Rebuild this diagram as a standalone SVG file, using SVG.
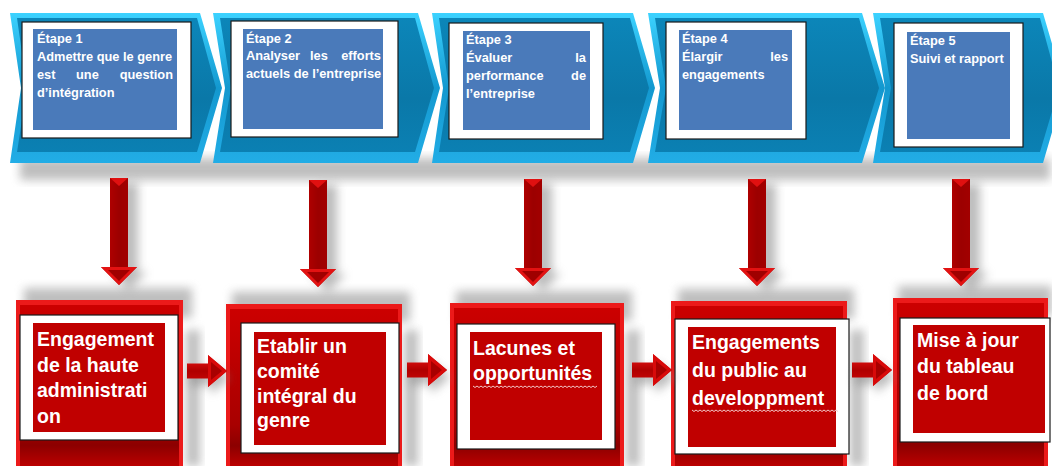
<svg xmlns="http://www.w3.org/2000/svg" width="1052" height="466" viewBox="0 0 1052 466">
  <style>
    .step { font-family: "Liberation Sans", Arial, sans-serif; font-weight: bold; font-size: 12.8px; fill: #ffffff; }
    .task { font-family: "Liberation Sans", Arial, sans-serif; font-weight: bold; font-size: 19.5px; fill: #ffffff; }
    .card { fill: #ffffff; stroke: #1a1a1a; stroke-width: 1.2; }
    .blue { fill: #4a7aba; }
    .red { fill: #c00000; }
    .chev-edge { fill: url(#chevEdge); }
    .chev-face { fill: url(#chevFace); }
    .panel-edge { fill: #ec1a1a; }
    .panel-face { fill: url(#panelFace); }
    .shadow { fill: #8a8a8a; filter: url(#soft); opacity: 0.55; }
    .squiggle { fill: none; stroke: #f2c8c8; stroke-width: 1; }
  </style>
  <defs>
    <filter id="soft" x="-30%" y="-30%" width="160%" height="160%">
      <feGaussianBlur stdDeviation="5"/>
    </filter>
    <linearGradient id="chevEdge" x1="0" y1="0" x2="0" y2="1">
      <stop offset="0" stop-color="#3cd2ff"/>
      <stop offset="0.5" stop-color="#1398cf"/>
      <stop offset="1" stop-color="#22ade6"/>
    </linearGradient>
    <linearGradient id="chevFace" x1="0" y1="0" x2="0" y2="1">
      <stop offset="0" stop-color="#0c86b9"/>
      <stop offset="0.6" stop-color="#0a78a8"/>
      <stop offset="1" stop-color="#0b80b3"/>
    </linearGradient>
    <linearGradient id="panelFace" x1="0" y1="0" x2="0" y2="1">
      <stop offset="0" stop-color="#cc0000"/>
      <stop offset="0.72" stop-color="#a80000"/>
      <stop offset="0.85" stop-color="#8c0000"/>
      <stop offset="1" stop-color="#c40000"/>
    </linearGradient>
    <linearGradient id="arrowShaft" x1="0" y1="0" x2="1" y2="0">
      <stop offset="0" stop-color="#c00000"/>
      <stop offset="0.5" stop-color="#9c0000"/>
      <stop offset="1" stop-color="#a80000"/>
    </linearGradient>
    <linearGradient id="arrowSide" x1="0" y1="0" x2="0" y2="1">
      <stop offset="0" stop-color="#f01818"/>
      <stop offset="0.5" stop-color="#b00000"/>
      <stop offset="1" stop-color="#d00a0a"/>
    </linearGradient>
    <!-- downward block arrow, tip at (0,107) -->
    <g id="down-arrow">
      <path d="M-9,0 H9 V89 H18 L0,107 L-18,89 H-9 Z" fill="url(#arrowShaft)"/>
      <path d="M-9,0 H9 L0,8 Z" fill="#e01010"/>
      <path d="M-18,89 H18 L0,107 Z" fill="#e31212"/>
      <path d="M-11,92 H11 L0,103 Z" fill="#a00000"/>
    </g>
    <path id="down-arrow-shadow" d="M-9,0 H9 V89 H18 L0,107 L-18,89 H-9 Z"/>
    <!-- rightward block arrow, tail at x=0 on the axis -->
    <g id="right-arrow">
      <path d="M0,-7.5 H21 V-16 L40,0 L21,16 V7.5 H0 Z" fill="url(#arrowSide)"/>
      <path d="M21,-16 L40,0 L21,16 Z" fill="#d80a0a"/>
      <path d="M24,-9 L35,0 L24,9 Z" fill="#a80000"/>
    </g>
    <path id="right-arrow-shadow" d="M0,-7.5 H21 V-16 L40,0 L21,16 V7.5 H0 Z"/>
  </defs>

  <rect width="1052" height="466" fill="#ffffff"/>

  <!-- soft shadows under the step banner and the task panels -->
  <g id="shadows">
    <rect class="shadow" x="20" y="158" width="1030" height="22"/>
    <rect class="shadow" x="24" y="288" width="168" height="30" opacity="0.45"/>
    <rect class="shadow" x="232" y="292" width="178" height="30" opacity="0.45"/>
    <rect class="shadow" x="456" y="291" width="176" height="30" opacity="0.45"/>
    <rect class="shadow" x="678" y="289" width="176" height="30" opacity="0.45"/>
    <rect class="shadow" x="898" y="286" width="154" height="30" opacity="0.45"/>
    <rect class="shadow" x="186" y="330" width="14" height="136" opacity="0.35"/>
    <rect class="shadow" x="404" y="330" width="14" height="136" opacity="0.35"/>
    <rect class="shadow" x="626" y="330" width="14" height="136" opacity="0.35"/>
    <rect class="shadow" x="850" y="330" width="14" height="136" opacity="0.35"/>
  </g>

  <!-- step chevrons -->
  <g id="step-1">
    <polygon class="chev-edge" points="10,13 200,13 222,88 200,163 10,163 21,88"/>
    <polygon class="chev-face" points="17,18 197,18 216,88 197,152 17,152 27,88"/>
    <rect class="card" x="22" y="22" width="169" height="116"/>
    <rect class="blue" x="33" y="29" width="144" height="101"/>
    <text class="step" x="37" y="43">Étape 1</text>
    <text class="step" x="37" y="61">Admettre que le genre</text>
    <text class="step" x="37" y="79">est</text>
    <text class="step" x="76" y="79">une</text>
    <text class="step" x="173" y="79" text-anchor="end">question</text>
    <text class="step" x="37" y="97">d’intégration</text>
  </g>
  <g id="step-2">
    <polygon class="chev-edge" points="213,13 418,13 440,88 418,163 213,163 225,88"/>
    <polygon class="chev-face" points="220,18 415,18 434,88 415,152 220,152 231,88"/>
    <rect class="card" x="231" y="21" width="167" height="116"/>
    <rect class="blue" x="243" y="29" width="140" height="100"/>
    <text class="step" x="246" y="43">Étape 2</text>
    <text class="step" x="246" y="60">Analyser</text>
    <text class="step" x="310" y="60">les</text>
    <text class="step" x="381" y="60" text-anchor="end">efforts</text>
    <text class="step" x="246" y="78">actuels de l’entreprise</text>
  </g>
  <g id="step-3">
    <polygon class="chev-edge" points="432,13 633,13 655,88 633,163 432,163 443,88"/>
    <polygon class="chev-face" points="439,18 630,18 649,88 630,152 439,152 449,88"/>
    <rect class="card" x="449" y="23" width="154" height="116"/>
    <rect class="blue" x="463" y="31" width="127" height="99"/>
    <text class="step" x="466" y="44">Étape 3</text>
    <text class="step" x="466" y="62">Évaluer</text>
    <text class="step" x="586" y="62" text-anchor="end">la</text>
    <text class="step" x="466" y="80">performance</text>
    <text class="step" x="586" y="80" text-anchor="end">de</text>
    <text class="step" x="466" y="98">l’entreprise</text>
  </g>
  <g id="step-4">
    <polygon class="chev-edge" points="648,13 862,13 885,88 862,163 648,163 660,88"/>
    <polygon class="chev-face" points="655,18 859,18 879,88 859,152 655,152 666,88"/>
    <rect class="card" x="666" y="22" width="140" height="117"/>
    <rect class="blue" x="679" y="30" width="113" height="100"/>
    <text class="step" x="682" y="43">Étape 4</text>
    <text class="step" x="682" y="61">Élargir</text>
    <text class="step" x="788" y="61" text-anchor="end">les</text>
    <text class="step" x="682" y="79">engagements</text>
  </g>
  <g id="step-5">
    <polygon class="chev-edge" points="873,13 1043,13 1065,88 1043,163 873,163 885,88"/>
    <polygon class="chev-face" points="880,18 1040,18 1059,88 1040,152 880,152 891,88"/>
    <rect class="card" x="894" y="23" width="129" height="124"/>
    <rect class="blue" x="907" y="32" width="103" height="107"/>
    <text class="step" x="910" y="45">Étape 5</text>
    <text class="step" x="910" y="63">Suivi et rapport</text>
  </g>

  <!-- task panels -->
  <g id="task-1">
    <rect class="panel-edge" x="16" y="300" width="167" height="170"/>
    <rect class="panel-face" x="20" y="305" width="159" height="165"/>
    <rect class="card" x="20" y="315" width="158" height="125"/>
    <rect class="red" x="33" y="323" width="132" height="109"/>
    <text class="task" x="37" y="346">Engagement</text>
    <text class="task" x="37" y="372">de la haute</text>
    <text class="task" x="37" y="397">administrati</text>
    <text class="task" x="37" y="423">on</text>
  </g>
  <g id="task-2">
    <rect class="panel-edge" x="226" y="304" width="176" height="166"/>
    <rect class="panel-face" x="230" y="309" width="168" height="161"/>
    <rect class="card" x="241" y="323" width="158" height="130"/>
    <rect class="red" x="254" y="332" width="132" height="113"/>
    <text class="task" x="257" y="353">Etablir un</text>
    <text class="task" x="257" y="378">comité</text>
    <text class="task" x="257" y="403">intégral du</text>
    <text class="task" x="257" y="427">genre</text>
  </g>
  <g id="task-3">
    <rect class="panel-edge" x="450" y="303" width="174" height="167"/>
    <rect class="panel-face" x="454" y="308" width="166" height="162"/>
    <rect class="card" x="457" y="324" width="158" height="125"/>
    <rect class="red" x="470" y="332" width="132" height="108"/>
    <text class="task" x="473" y="355">Lacunes et</text>
    <text class="task" x="473" y="380">opportunités</text>
    <path class="squiggle" d="M473,386 l2,1.5 l2,-1.5 l2,1.5 l2,-1.5 l2,1.5 l2,-1.5 l2,1.5 l2,-1.5 l2,1.5 l2,-1.5 l2,1.5 l2,-1.5 l2,1.5 l2,-1.5 l2,1.5 l2,-1.5 l2,1.5 l2,-1.5 l2,1.5 l2,-1.5 l2,1.5 l2,-1.5 l2,1.5 l2,-1.5 l2,1.5 l2,-1.5 l2,1.5 l2,-1.5 l2,1.5 l2,-1.5 l2,1.5 l2,-1.5 l2,1.5 l2,-1.5 l2,1.5 l2,-1.5 l2,1.5 l2,-1.5 l2,1.5 l2,-1.5 l2,1.5 l2,-1.5 l2,1.5 l2,-1.5 l2,1.5 l2,-1.5 l2,1.5 l2,-1.5 l2,1.5 l2,-1.5 l2,1.5 l2,-1.5 l2,1.5 l2,-1.5 l2,1.5 l2,-1.5 l2,1.5 l2,-1.5 l2,1.5 l2,-1.5 l2,1.5 l2,-1.5"/>
  </g>
  <g id="task-4">
    <rect class="panel-edge" x="671" y="301" width="176" height="169"/>
    <rect class="panel-face" x="675" y="306" width="168" height="164"/>
    <rect class="card" x="675" y="319" width="174" height="135"/>
    <rect class="red" x="688" y="327" width="148" height="120"/>
    <text class="task" x="692" y="349">Engagements</text>
    <text class="task" x="692" y="377">du public au</text>
    <text class="task" x="692" y="405">developpment</text>
    <path class="squiggle" d="M692,410 l2,1.5 l2,-1.5 l2,1.5 l2,-1.5 l2,1.5 l2,-1.5 l2,1.5 l2,-1.5 l2,1.5 l2,-1.5 l2,1.5 l2,-1.5 l2,1.5 l2,-1.5 l2,1.5 l2,-1.5 l2,1.5 l2,-1.5 l2,1.5 l2,-1.5 l2,1.5 l2,-1.5 l2,1.5 l2,-1.5 l2,1.5 l2,-1.5 l2,1.5 l2,-1.5 l2,1.5 l2,-1.5 l2,1.5 l2,-1.5 l2,1.5 l2,-1.5 l2,1.5 l2,-1.5 l2,1.5 l2,-1.5 l2,1.5 l2,-1.5 l2,1.5 l2,-1.5 l2,1.5 l2,-1.5 l2,1.5 l2,-1.5 l2,1.5 l2,-1.5 l2,1.5 l2,-1.5 l2,1.5 l2,-1.5 l2,1.5 l2,-1.5 l2,1.5 l2,-1.5 l2,1.5 l2,-1.5 l2,1.5 l2,-1.5 l2,1.5 l2,-1.5 l2,1.5 l2,-1.5 l2,1.5 l2,-1.5 l2,1.5 l2,-1.5 l2,1.5 l2,-1.5 l2,1.5 l2,-1.5 l2,1.5"/>
  </g>
  <g id="task-5">
    <rect class="panel-edge" x="893" y="298" width="155" height="172"/>
    <rect class="panel-face" x="897" y="303" width="147" height="167"/>
    <rect class="card" x="900" y="318" width="150" height="124"/>
    <rect class="red" x="913" y="325" width="132" height="108"/>
    <text class="task" x="917" y="347">Mise à jour</text>
    <text class="task" x="917" y="373">du tableau</text>
    <text class="task" x="917" y="400">de bord</text>
  </g>

  <!-- connectors: steps down to tasks, then task to task -->
  <g id="connectors">
    <g class="connector-shadows" fill="#7a7a7a" opacity="0.5" filter="url(#soft)">
      <use href="#down-arrow-shadow" x="129" y="183"/>
      <use href="#down-arrow-shadow" x="328" y="185"/>
      <use href="#down-arrow-shadow" x="543" y="184"/>
      <use href="#down-arrow-shadow" x="767" y="184"/>
      <use href="#down-arrow-shadow" x="971" y="184"/>
      <use href="#right-arrow-shadow" x="190" y="378"/>
      <use href="#right-arrow-shadow" x="410" y="377"/>
      <use href="#right-arrow-shadow" x="635" y="377"/>
      <use href="#right-arrow-shadow" x="855" y="377"/>
    </g>
    <use href="#down-arrow" x="119" y="178"/>
    <use href="#down-arrow" x="318" y="180"/>
    <use href="#down-arrow" x="533" y="179"/>
    <use href="#down-arrow" x="757" y="179"/>
    <use href="#down-arrow" x="961" y="179"/>
    <use href="#right-arrow" x="187" y="371"/>
    <use href="#right-arrow" x="407" y="370"/>
    <use href="#right-arrow" x="632" y="370"/>
    <use href="#right-arrow" x="852" y="370"/>
  </g>
</svg>
